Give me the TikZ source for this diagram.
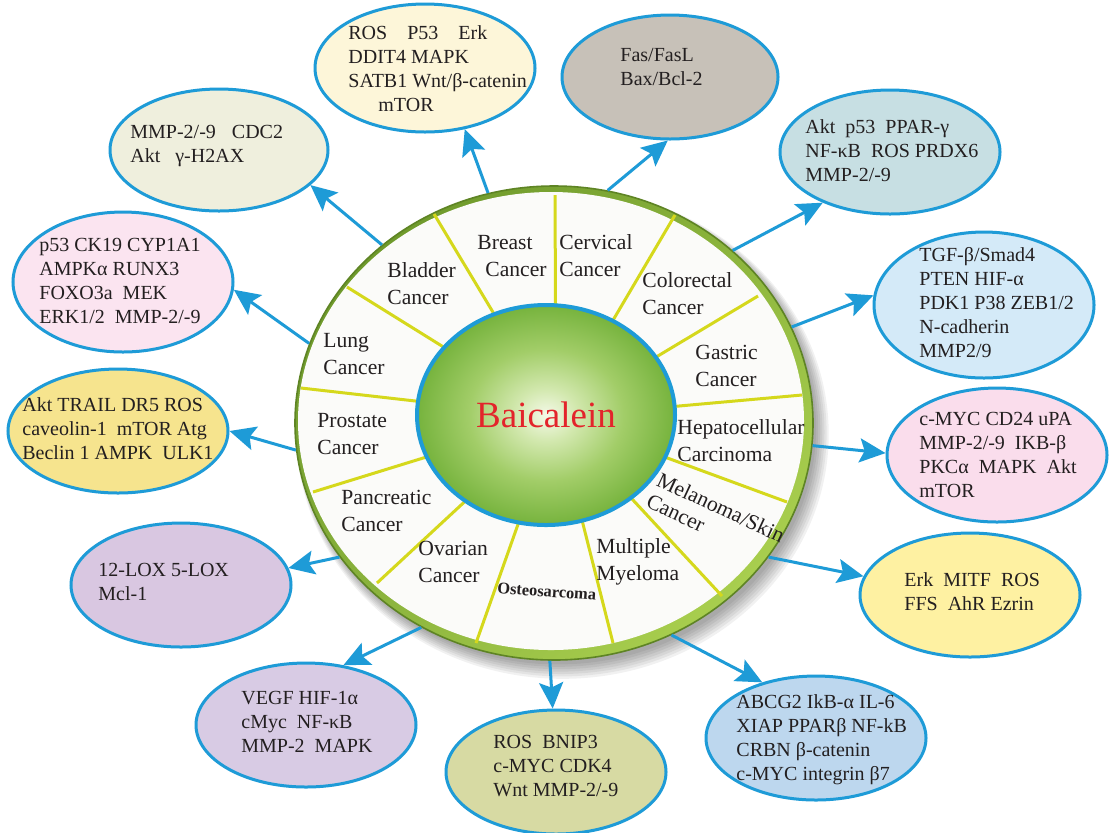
\documentclass[tikz,border=0pt]{standalone}
\usepackage{fontspec}
\setmainfont{Liberation Serif}
\usetikzlibrary{arrows.meta,shapes.geometric}

\definecolor{arrowblue}{HTML}{1E9BD7}
\definecolor{spokeyellow}{HTML}{D5D81C}
\definecolor{rimdark}{HTML}{6F9A2C}
\definecolor{rimlight}{HTML}{A8CE4E}
\definecolor{rimedge}{HTML}{5E8424}
\definecolor{diskwhite}{HTML}{FBFBF9}
\definecolor{baired}{HTML}{E3242B}
\definecolor{inktext}{HTML}{231F20}
\definecolor{corelight}{HTML}{F4F9E8}
\definecolor{corepale}{HTML}{D2E8AE}
\definecolor{coremid}{HTML}{A2CD68}
\definecolor{coregreen}{HTML}{76B33D}
\definecolor{breastfill}{HTML}{FDF6D9}
\definecolor{bladderfill}{HTML}{EFEFDD}
\definecolor{lungfill}{HTML}{FBE4F0}
\definecolor{prostatefill}{HTML}{F6E48E}
\definecolor{pancreasfill}{HTML}{D9C7E1}
\definecolor{ovaryfill}{HTML}{D8CBE4}
\definecolor{osteofill}{HTML}{D7DAA3}
\definecolor{myelomafill}{HTML}{BDD7EE}
\definecolor{melanomafill}{HTML}{FEF1A2}
\definecolor{liverfill}{HTML}{FADDEC}
\definecolor{gastricfill}{HTML}{D4EAF8}
\definecolor{colonfill}{HTML}{C7DFE3}
\definecolor{cervixfill}{HTML}{C7C1B8}

\pgfdeclareradialshading{coreshade}{\pgfpoint{0bp}{0bp}}{color(0bp)=(corelight); color(6bp)=(corepale); color(15bp)=(coremid); color(25bp)=(coregreen); color(50bp)=(coregreen)}

\tikzset{
  arr/.style={draw=arrowblue, line width=1.5pt, -{Stealth[length=13pt,width=12pt,inset=2.5pt]}},
  genebox/.style={ellipse, draw=arrowblue, line width=1.5pt, inner sep=0pt},
  genes/.style={font=\fontsize{10}{12}\selectfont, text=inktext, align=left, anchor=west, inner sep=0pt},
  sector/.style={font=\fontsize{10.8}{13.5}\selectfont, text=inktext, align=left, anchor=west, inner sep=0pt},
  spoke/.style={draw=spokeyellow, line width=1.5pt},
}

\begin{document}
\begin{tikzpicture}[x=0.5pt,y=-0.5pt]
\useasboundingbox (0,0) rectangle (1112,832);
\fill[white] (0,0) rectangle (1112,832);

%% wheel with soft shadow
\foreach \k in {1,...,7}
  \fill[black, opacity=0.055] (557+\k*0.8,427+\k) ellipse [x radius=257+\k*1.3, y radius=235+\k*1.4];
\node[ellipse, minimum width=259pt, minimum height=237pt, inner sep=0pt,
  top color=rimdark, bottom color=rimlight, shading angle=45,
  draw=rimedge, line width=0.8pt] (wheel) at (554,423) {};
\node[ellipse, minimum width=253pt, minimum height=229pt, inner sep=0pt, fill=diskwhite] (disk) at (551,421) {};

\coordinate (hub) at (556,417);
\foreach \px/\py in {555/195,675/215,758/296,802/395,787/502,722/596,613/643,
                     476/643,377/583,313/492,301/388,347/287,434/214}
  \draw[spoke] (hub) -- (\px,\py);

\node[ellipse, minimum width=129pt, minimum height=110pt, inner sep=0pt,
  shading=coreshade, draw=arrowblue, line width=2pt,
  font=\fontsize{18.5}{20}\selectfont, text=baired] (core) at (546,415) {Baicalein};

%% cancer types
\node[sector] (breastlbl) at (477,256) {Breast\\\hspace*{4pt}Cancer};
\node[sector] (cervixlbl) at (559,256) {Cervical\\Cancer};
\node[sector] (colonlbl) at (642,294) {Colorectal\\Cancer};
\node[sector] (gastriclbl) at (695,366) {Gastric\\Cancer};
\node[sector] (liverlbl) at (677,441) {Hepatocellular\\Carcinoma};
\node[sector, rotate=-25, font=\fontsize{10.8}{12}\selectfont] (melanomalbl) at (653,489) {Melanoma/Skin\\Cancer};
\node[sector] (myelomalbl) at (596,562) {Multiple\\Myeloma};
\node[sector, rotate=-4, font=\bfseries\fontsize{8.2}{10}\selectfont] (osteolbl) at (497,588) {Osteosarcoma};
\node[sector] (ovarylbl) at (418,562) {Ovarian\\Cancer};
\node[sector] (pancreaslbl) at (341,511) {Pancreatic\\Cancer};
\node[sector] (prostatelbl) at (317,434) {Prostate\\Cancer};
\node[sector] (lunglbl) at (323,354) {Lung\\Cancer};
\node[sector] (bladderlbl) at (387,284) {Bladder\\Cancer};

%% targets
\node[genebox, fill=breastfill, minimum width=110pt, minimum height=64pt] (breastbox) at (425,68) {};
\node[genes] (breasttxt) at (348,69) {ROS\quad P53\quad Erk\\DDIT4 MAPK\\SATB1 Wnt/β-catenin\\\hspace*{15pt}mTOR};
\node[genebox, fill=bladderfill, minimum width=109pt, minimum height=61pt] (bladderbox) at (219,150) {};
\node[genes] (bladdertxt) at (130,146) {MMP-2/-9\hspace{8pt}CDC2\\Akt\hspace{7.5pt}γ-H2AX};
\node[genebox, fill=lungfill, minimum width=110pt, minimum height=70pt] (lungbox) at (123,282) {};
\node[genes] (lungtxt) at (39,281) {p53 CK19 CYP1A1\\AMPKα RUNX3\\FOXO3a\ \ MEK\\ERK1/2\ \ MMP-2/-9};
\node[genebox, fill=prostatefill, minimum width=110pt, minimum height=62pt] (prostatebox) at (118,431) {};
\node[genes] (prostatetxt) at (22,429) {Akt TRAIL DR5 ROS\\caveolin-1\ \ mTOR Atg\\Beclin 1 AMPK\ \ ULK1};
\node[genebox, fill=pancreasfill, minimum width=110pt, minimum height=62pt] (pancreasbox) at (181,585) {};
\node[genes] (pancreastxt) at (98,582) {12-LOX 5-LOX\\Mcl-1};
\node[genebox, fill=ovaryfill, minimum width=110pt, minimum height=62pt] (ovarybox) at (306,725) {};
\node[genes] (ovarytxt) at (241,722) {VEGF HIF-1α\\cMyc\ \ NF-κB\\MMP-2\ \ MAPK};
\node[genebox, fill=osteofill, minimum width=110pt, minimum height=62pt] (osteobox) at (556,772) {};
\node[genes] (osteotxt) at (493,766) {ROS\ \ BNIP3\\c-MYC CDK4\\Wnt MMP-2/-9};
\node[genebox, fill=myelomafill, minimum width=110pt, minimum height=62pt] (myelomabox) at (816,738) {};
\node[genes] (myelomatxt) at (736,740) {ABCG2 IkB-α IL-6\\XIAP PPARβ NF-kB\\CRBN β-catenin\\c-MYC integrin β7};
\node[genebox, fill=melanomafill, minimum width=110pt, minimum height=62pt] (melanomabox) at (970,595) {};
\node[genes] (melanomatxt) at (904,592) {Erk\ \ MITF\ \ ROS\\FFS\ \ AhR Ezrin};
\node[genebox, fill=liverfill, minimum width=110pt, minimum height=67pt] (liverbox) at (997,455) {};
\node[genes] (livertxt) at (919,455) {c-MYC CD24 uPA\\MMP-2/-9\ \ IKB-β\\PKCα\ \ MAPK\ \ Akt\\mTOR};
\node[genebox, fill=gastricfill, minimum width=110pt, minimum height=73pt] (gastricbox) at (984,305) {};
\node[genes] (gastrictxt) at (919,303) {TGF-β/Smad4\\PTEN HIF-α\\PDK1 P38 ZEB1/2\\N-cadherin\\MMP2/9};
\node[genebox, fill=colonfill, minimum width=110pt, minimum height=62pt] (colonbox) at (890,152) {};
\node[genes] (colontxt) at (805,151) {Akt\ \ p53\ \ PPAR-γ\\NF-κB\ \ ROS PRDX6\\MMP-2/-9};
\node[genebox, fill=cervixfill, minimum width=108pt, minimum height=62pt] (cervixbox) at (670,77) {};
\node[genes] (cervixtxt) at (620,67) {Fas/FasL\\Bax/Bcl-2};

%% arrows
\draw[arr] (wheel.106) -- (breastbox.-57.6);
\draw[arr] (wheel.134.8) -- (bladderbox.-21.9);
\draw[arr] (wheel.162) -- (lungbox.-4.6);
\draw[arr] (wheel.186.4) -- (prostatebox.0);
\draw[arr] (wheel.212.9) -- (pancreasbox.9.6);
\draw[arr] (wheel.237.8) -- (ovarybox.58.5);
\draw[arr] (wheel.269) -- (osteobox.93.6);
\draw[arr] (wheel.299.7) -- (myelomabox.134);
\draw[arr] (wheel.328.8) -- (melanomabox.170.6);
\draw[arr] (wheel.355.5) -- (liverbox.179);
\draw[arr] (wheel.22) -- (gastricbox.175);
\draw[arr] (wheel.44.2) -- (colonbox.217);
\draw[arr] (wheel.77.7) -- (cervixbox.268);
\end{tikzpicture}
\end{document}
